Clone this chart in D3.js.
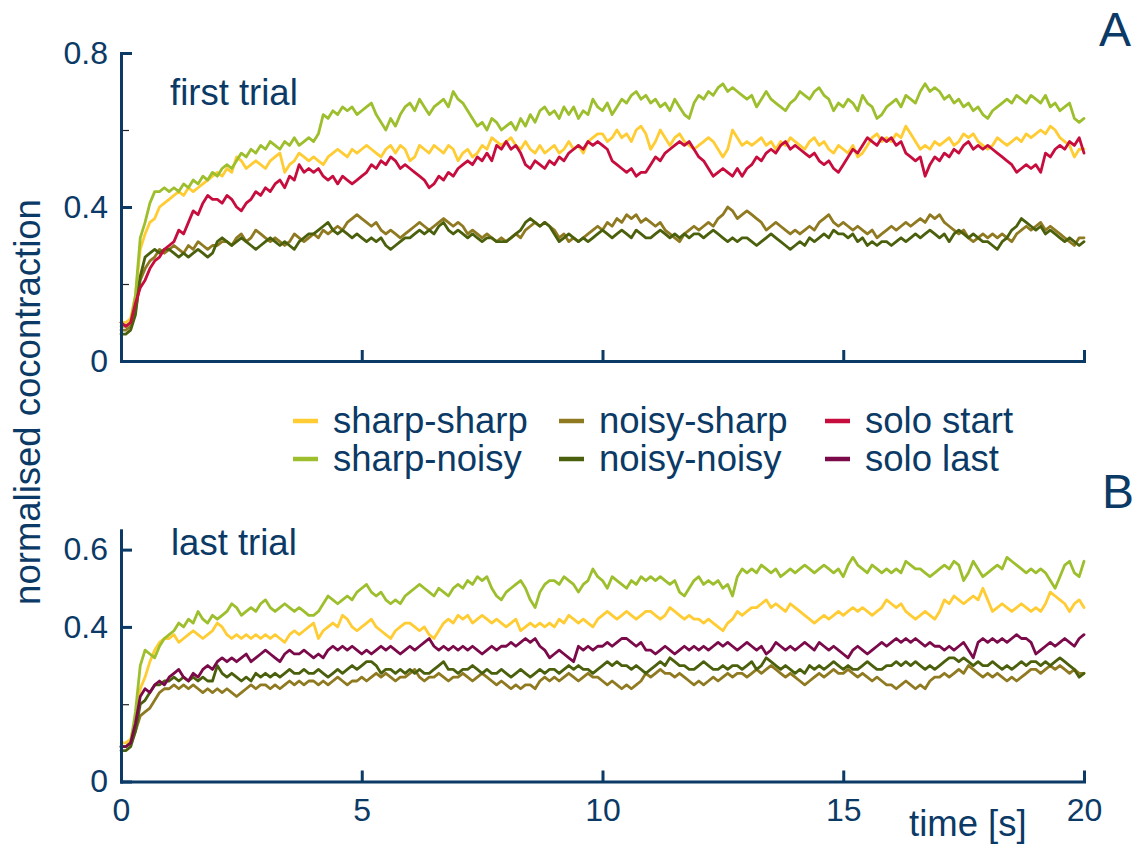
<!DOCTYPE html>
<html>
<head>
<meta charset="utf-8">
<script src="https://cdn.jsdelivr.net/npm/d3@7"></script>
<style>
  html, body { margin: 0; padding: 0; background: #ffffff; }
  svg { display: block; }
  text { font-family: "Liberation Sans", Arial, Helvetica, sans-serif; fill: #0b3a66; }
</style>
</head>
<body>
<svg id="chart" width="1145" height="847"></svg>
<script>
// Sampling interval of every trace (seconds); sample i is at time i * dt.
const dt = 0.1;

// Axis tick values
const xTickValues = [0, 5, 10, 15, 20];
const yMajorFirst = [0, 0.4, 0.8];
const yMinorFirst = [0.2, 0.6];
const yMajorLast = [0, 0.4, 0.6];
const yMinorLast = [0.2];

// Legend / series identity
const legendLabels = ["sharp-sharp", "sharp-noisy", "noisy-sharp", "noisy-noisy", "solo start", "solo last"];
const legendColors = ["#ffcc33", "#9dbf2e", "#8f7a22", "#4b600c", "#c70d3d", "#7b0a4a"];

// Panel A: first trial, normalised cocontraction
const sharpSharpFirst = [
0.10,0.10,0.11,0.17,0.29,0.33,0.36,0.37,0.40,0.41,
0.42,0.43,0.44,0.43,0.45,0.44,0.45,0.46,0.47,0.48,
0.49,0.48,0.50,0.49,0.53,0.52,0.50,0.51,0.52,0.51,
0.50,0.52,0.53,0.54,0.49,0.51,0.52,0.54,0.53,0.52,
0.53,0.52,0.51,0.53,0.54,0.55,0.54,0.53,0.55,0.54,
0.55,0.56,0.55,0.54,0.53,0.55,0.56,0.54,0.56,0.55,
0.52,0.53,0.56,0.55,0.54,0.56,0.55,0.54,0.56,0.55,
0.52,0.54,0.55,0.53,0.54,0.56,0.55,0.58,0.57,0.56,
0.57,0.58,0.56,0.55,0.57,0.55,0.54,0.56,0.54,0.55,
0.56,0.54,0.55,0.57,0.55,0.56,0.54,0.57,0.58,0.59,
0.59,0.57,0.58,0.60,0.58,0.59,0.57,0.60,0.61,0.59,
0.55,0.57,0.60,0.58,0.56,0.58,0.59,0.57,0.56,0.55,
0.56,0.57,0.58,0.57,0.55,0.53,0.55,0.60,0.58,0.56,
0.57,0.56,0.57,0.58,0.56,0.57,0.55,0.57,0.56,0.58,
0.57,0.56,0.55,0.57,0.58,0.56,0.57,0.55,0.54,0.56,
0.55,0.54,0.56,0.53,0.54,0.56,0.58,0.59,0.57,0.58,
0.57,0.59,0.58,0.61,0.59,0.57,0.55,0.56,0.55,0.57,
0.56,0.57,0.58,0.56,0.57,0.59,0.58,0.59,0.57,0.56,
0.55,0.56,0.58,0.57,0.56,0.57,0.58,0.57,0.59,0.58,
0.59,0.60,0.59,0.61,0.60,0.58,0.57,0.56,0.53,0.55,0.55
];
const sharpNoisyFirst = [
0.09,0.09,0.10,0.17,0.32,0.36,0.41,0.44,0.44,0.45,
0.44,0.45,0.44,0.46,0.45,0.47,0.46,0.48,0.47,0.49,
0.48,0.50,0.51,0.50,0.52,0.54,0.53,0.55,0.54,0.56,
0.55,0.57,0.56,0.55,0.57,0.56,0.58,0.56,0.57,0.58,
0.57,0.59,0.64,0.63,0.65,0.64,0.66,0.65,0.66,0.64,
0.65,0.66,0.67,0.64,0.62,0.60,0.63,0.61,0.64,0.66,
0.67,0.65,0.68,0.66,0.64,0.66,0.67,0.68,0.66,0.70,
0.68,0.67,0.65,0.63,0.61,0.62,0.60,0.63,0.62,0.60,
0.61,0.62,0.60,0.63,0.61,0.64,0.62,0.65,0.66,0.64,
0.65,0.63,0.66,0.64,0.66,0.63,0.65,0.64,0.68,0.66,
0.65,0.67,0.64,0.66,0.68,0.67,0.69,0.70,0.68,0.69,
0.67,0.68,0.66,0.67,0.65,0.68,0.66,0.64,0.63,0.67,
0.69,0.68,0.70,0.69,0.71,0.72,0.70,0.71,0.70,0.69,
0.68,0.69,0.66,0.68,0.70,0.68,0.67,0.66,0.65,0.67,
0.68,0.70,0.69,0.68,0.70,0.71,0.69,0.68,0.65,0.67,
0.66,0.68,0.67,0.65,0.69,0.67,0.66,0.63,0.64,0.66,
0.67,0.68,0.66,0.69,0.68,0.67,0.70,0.72,0.70,0.71,
0.70,0.68,0.69,0.67,0.68,0.66,0.67,0.65,0.66,0.64,
0.63,0.65,0.66,0.67,0.68,0.67,0.69,0.68,0.67,0.69,
0.68,0.67,0.69,0.66,0.67,0.65,0.66,0.67,0.63,0.62,0.63
];
const noisySharpFirst = [
0.08,0.08,0.09,0.13,0.21,0.24,0.26,0.27,0.29,0.28,
0.29,0.30,0.29,0.28,0.30,0.29,0.31,0.30,0.29,0.30,
0.30,0.31,0.31,0.30,0.32,0.33,0.31,0.32,0.34,0.33,
0.32,0.31,0.32,0.31,0.30,0.31,0.33,0.32,0.31,0.32,
0.33,0.32,0.34,0.33,0.34,0.35,0.34,0.36,0.37,0.38,
0.37,0.36,0.35,0.36,0.34,0.33,0.34,0.33,0.32,0.33,
0.34,0.35,0.36,0.35,0.34,0.35,0.36,0.37,0.36,0.35,
0.36,0.35,0.33,0.34,0.33,0.32,0.33,0.32,0.31,0.32,
0.31,0.32,0.33,0.32,0.34,0.35,0.36,0.35,0.36,0.35,
0.34,0.32,0.33,0.31,0.32,0.31,0.32,0.33,0.34,0.35,
0.34,0.36,0.35,0.37,0.36,0.38,0.37,0.38,0.36,0.37,
0.36,0.35,0.36,0.34,0.33,0.32,0.31,0.33,0.34,0.35,
0.34,0.35,0.36,0.35,0.37,0.38,0.40,0.39,0.37,0.38,
0.39,0.38,0.37,0.36,0.34,0.35,0.36,0.35,0.34,0.33,
0.34,0.33,0.34,0.35,0.34,0.36,0.37,0.38,0.36,0.35,
0.36,0.35,0.34,0.35,0.34,0.33,0.34,0.32,0.33,0.34,
0.35,0.34,0.35,0.36,0.35,0.36,0.37,0.36,0.38,0.37,
0.38,0.36,0.35,0.34,0.33,0.34,0.32,0.31,0.32,0.33,
0.32,0.33,0.32,0.33,0.32,0.31,0.33,0.34,0.35,0.34,
0.35,0.36,0.34,0.35,0.34,0.33,0.32,0.31,0.30,0.32,0.32
];
const noisyNoisyFirst = [
0.07,0.07,0.08,0.12,0.22,0.27,0.28,0.29,0.28,0.29,
0.29,0.28,0.27,0.28,0.27,0.28,0.29,0.28,0.27,0.28,
0.31,0.32,0.31,0.30,0.31,0.32,0.31,0.30,0.29,0.30,
0.31,0.32,0.31,0.30,0.31,0.30,0.29,0.31,0.32,0.33,
0.33,0.34,0.35,0.36,0.34,0.33,0.34,0.33,0.32,0.33,
0.32,0.31,0.32,0.31,0.32,0.30,0.29,0.30,0.31,0.32,
0.32,0.33,0.34,0.33,0.34,0.33,0.35,0.36,0.34,0.33,
0.34,0.33,0.32,0.33,0.32,0.31,0.32,0.32,0.31,0.31,
0.31,0.32,0.33,0.34,0.36,0.37,0.36,0.35,0.36,0.35,
0.33,0.31,0.32,0.33,0.32,0.31,0.32,0.31,0.32,0.33,
0.34,0.33,0.32,0.33,0.34,0.33,0.32,0.34,0.33,0.32,
0.32,0.33,0.34,0.33,0.32,0.33,0.32,0.33,0.32,0.33,
0.33,0.32,0.33,0.34,0.33,0.32,0.31,0.32,0.31,0.32,
0.32,0.31,0.30,0.31,0.32,0.33,0.32,0.31,0.30,0.29,
0.30,0.31,0.30,0.32,0.31,0.32,0.33,0.32,0.34,0.33,
0.33,0.32,0.33,0.31,0.32,0.30,0.31,0.30,0.31,0.31,
0.30,0.31,0.32,0.31,0.32,0.33,0.32,0.33,0.34,0.33,
0.32,0.33,0.31,0.33,0.34,0.33,0.32,0.33,0.32,0.31,
0.31,0.30,0.29,0.31,0.32,0.34,0.35,0.37,0.36,0.35,
0.34,0.35,0.33,0.34,0.33,0.32,0.31,0.32,0.31,0.30,0.31
];
const soloStartFirst = [
0.10,0.09,0.10,0.15,0.19,0.21,0.24,0.26,0.27,0.29,
0.30,0.31,0.34,0.33,0.36,0.39,0.38,0.41,0.43,0.42,
0.42,0.41,0.43,0.42,0.40,0.39,0.41,0.42,0.44,0.43,
0.45,0.44,0.46,0.47,0.45,0.48,0.47,0.51,0.49,0.50,
0.49,0.50,0.48,0.47,0.48,0.46,0.48,0.47,0.46,0.47,
0.48,0.49,0.51,0.50,0.52,0.51,0.53,0.52,0.50,0.51,
0.50,0.49,0.48,0.47,0.45,0.46,0.48,0.47,0.49,0.48,
0.50,0.51,0.52,0.51,0.53,0.52,0.54,0.52,0.56,0.55,
0.57,0.55,0.56,0.54,0.51,0.50,0.52,0.51,0.50,0.52,
0.51,0.53,0.52,0.54,0.55,0.56,0.55,0.57,0.56,0.57,
0.56,0.55,0.52,0.51,0.50,0.49,0.50,0.48,0.49,0.49,
0.51,0.53,0.52,0.54,0.55,0.56,0.57,0.56,0.57,0.55,
0.53,0.52,0.50,0.48,0.49,0.50,0.49,0.48,0.50,0.48,
0.50,0.51,0.53,0.52,0.54,0.55,0.54,0.56,0.57,0.55,
0.56,0.55,0.54,0.53,0.54,0.52,0.51,0.52,0.50,0.49,
0.51,0.53,0.55,0.54,0.56,0.58,0.57,0.56,0.58,0.57,
0.58,0.56,0.57,0.54,0.53,0.52,0.53,0.48,0.51,0.53,
0.52,0.54,0.53,0.55,0.54,0.56,0.57,0.55,0.56,0.55,
0.56,0.55,0.54,0.53,0.52,0.51,0.49,0.50,0.51,0.50,
0.51,0.49,0.54,0.53,0.55,0.56,0.55,0.57,0.56,0.58,0.54
];

// Panel B: last trial, normalised cocontraction
const sharpSharpLast = [
0.10,0.10,0.11,0.16,0.24,0.27,0.31,0.34,0.36,0.37,
0.37,0.38,0.36,0.37,0.38,0.39,0.38,0.37,0.38,0.39,
0.41,0.40,0.38,0.37,0.38,0.37,0.38,0.37,0.38,0.37,
0.38,0.37,0.38,0.37,0.36,0.38,0.39,0.38,0.39,0.40,
0.41,0.37,0.39,0.40,0.41,0.40,0.43,0.42,0.40,0.39,
0.40,0.41,0.42,0.40,0.39,0.38,0.37,0.39,0.40,0.41,
0.41,0.40,0.39,0.40,0.38,0.37,0.39,0.41,0.42,0.41,
0.43,0.42,0.43,0.41,0.42,0.43,0.42,0.41,0.42,0.41,
0.40,0.41,0.42,0.39,0.40,0.41,0.40,0.41,0.40,0.41,
0.40,0.42,0.41,0.43,0.42,0.41,0.42,0.41,0.40,0.42,
0.43,0.44,0.43,0.42,0.43,0.44,0.43,0.42,0.43,0.44,
0.44,0.43,0.42,0.43,0.45,0.44,0.43,0.42,0.43,0.42,
0.42,0.41,0.42,0.41,0.40,0.39,0.41,0.42,0.44,0.43,
0.44,0.45,0.45,0.46,0.47,0.45,0.46,0.45,0.44,0.46,
0.45,0.44,0.43,0.42,0.41,0.42,0.43,0.42,0.43,0.44,
0.43,0.44,0.45,0.44,0.45,0.44,0.43,0.44,0.45,0.47,
0.46,0.45,0.46,0.44,0.43,0.42,0.43,0.44,0.43,0.42,
0.44,0.47,0.46,0.48,0.47,0.46,0.47,0.48,0.47,0.50,
0.47,0.44,0.45,0.46,0.45,0.44,0.45,0.46,0.45,0.44,
0.45,0.44,0.46,0.49,0.48,0.47,0.46,0.44,0.46,0.47,0.45
];
const sharpNoisyLast = [
0.09,0.09,0.10,0.18,0.30,0.34,0.33,0.32,0.35,0.37,
0.38,0.39,0.41,0.40,0.42,0.41,0.44,0.42,0.41,0.43,
0.42,0.43,0.44,0.46,0.45,0.43,0.44,0.45,0.44,0.46,
0.47,0.45,0.44,0.45,0.46,0.45,0.44,0.45,0.44,0.43,
0.43,0.44,0.46,0.48,0.47,0.46,0.47,0.48,0.47,0.49,
0.50,0.51,0.49,0.48,0.49,0.47,0.46,0.47,0.46,0.48,
0.49,0.50,0.51,0.50,0.49,0.48,0.50,0.49,0.48,0.50,
0.51,0.50,0.52,0.51,0.53,0.52,0.53,0.50,0.48,0.47,
0.49,0.50,0.51,0.52,0.50,0.47,0.45,0.49,0.51,0.52,
0.52,0.51,0.53,0.52,0.51,0.49,0.51,0.52,0.55,0.53,
0.52,0.50,0.53,0.52,0.51,0.50,0.52,0.51,0.53,0.52,
0.53,0.52,0.53,0.52,0.51,0.52,0.49,0.48,0.50,0.52,
0.53,0.51,0.52,0.51,0.52,0.50,0.51,0.48,0.53,0.55,
0.54,0.55,0.54,0.56,0.55,0.54,0.55,0.53,0.54,0.55,
0.54,0.55,0.56,0.55,0.54,0.55,0.56,0.55,0.54,0.55,
0.53,0.56,0.58,0.56,0.55,0.54,0.56,0.55,0.54,0.55,
0.54,0.55,0.54,0.57,0.56,0.55,0.55,0.54,0.53,0.54,
0.55,0.56,0.55,0.57,0.56,0.52,0.54,0.57,0.55,0.53,
0.54,0.55,0.56,0.55,0.58,0.57,0.56,0.55,0.54,0.55,
0.54,0.55,0.54,0.52,0.50,0.53,0.56,0.57,0.54,0.53,0.57
];
const noisySharpLast = [
0.09,0.09,0.10,0.13,0.17,0.18,0.19,0.21,0.23,0.24,
0.24,0.25,0.24,0.25,0.24,0.25,0.24,0.23,0.24,0.23,
0.24,0.23,0.24,0.23,0.22,0.23,0.24,0.25,0.24,0.25,
0.25,0.24,0.25,0.24,0.25,0.26,0.25,0.26,0.25,0.26,
0.26,0.25,0.26,0.25,0.26,0.27,0.26,0.25,0.26,0.26,
0.27,0.26,0.27,0.28,0.27,0.28,0.27,0.26,0.27,0.27,
0.28,0.29,0.27,0.26,0.27,0.27,0.28,0.27,0.26,0.27,
0.27,0.28,0.27,0.26,0.27,0.28,0.27,0.26,0.25,0.26,
0.25,0.24,0.25,0.24,0.25,0.25,0.24,0.26,0.27,0.26,
0.27,0.26,0.27,0.28,0.27,0.26,0.27,0.28,0.27,0.27,
0.26,0.25,0.26,0.25,0.24,0.25,0.24,0.25,0.26,0.28,
0.27,0.28,0.29,0.28,0.28,0.27,0.28,0.27,0.26,0.25,
0.26,0.25,0.26,0.27,0.26,0.27,0.28,0.27,0.28,0.28,
0.27,0.28,0.29,0.28,0.29,0.30,0.29,0.28,0.27,0.28,
0.27,0.26,0.25,0.26,0.27,0.28,0.27,0.28,0.29,0.28,
0.28,0.29,0.28,0.27,0.28,0.27,0.26,0.27,0.26,0.25,
0.25,0.24,0.25,0.26,0.25,0.24,0.25,0.24,0.26,0.27,
0.27,0.28,0.27,0.28,0.29,0.28,0.30,0.29,0.28,0.27,
0.28,0.27,0.28,0.27,0.26,0.27,0.26,0.27,0.28,0.29,
0.29,0.28,0.29,0.30,0.29,0.30,0.29,0.28,0.29,0.28,0.28
];
const noisyNoisyLast = [
0.08,0.08,0.09,0.13,0.20,0.21,0.23,0.25,0.25,0.26,
0.26,0.27,0.26,0.27,0.26,0.27,0.26,0.27,0.26,0.26,
0.30,0.28,0.27,0.28,0.27,0.26,0.27,0.26,0.28,0.27,
0.28,0.27,0.28,0.27,0.28,0.29,0.28,0.28,0.29,0.28,
0.28,0.29,0.28,0.27,0.28,0.29,0.28,0.29,0.30,0.29,
0.30,0.31,0.31,0.30,0.28,0.29,0.29,0.28,0.29,0.28,
0.29,0.28,0.29,0.28,0.28,0.29,0.30,0.31,0.29,0.29,
0.28,0.29,0.29,0.30,0.29,0.28,0.29,0.28,0.28,0.29,
0.28,0.27,0.28,0.29,0.28,0.27,0.28,0.29,0.28,0.29,
0.29,0.28,0.29,0.30,0.29,0.30,0.29,0.29,0.28,0.29,
0.30,0.31,0.30,0.31,0.30,0.30,0.29,0.30,0.29,0.28,
0.29,0.30,0.31,0.30,0.32,0.31,0.30,0.30,0.29,0.29,
0.30,0.31,0.30,0.29,0.29,0.30,0.29,0.30,0.30,0.29,
0.30,0.31,0.29,0.30,0.32,0.31,0.30,0.29,0.30,0.29,
0.28,0.29,0.28,0.30,0.29,0.30,0.29,0.30,0.31,0.30,
0.29,0.30,0.29,0.29,0.30,0.31,0.30,0.29,0.29,0.30,
0.30,0.31,0.30,0.31,0.30,0.31,0.30,0.29,0.30,0.29,
0.30,0.31,0.32,0.32,0.31,0.32,0.31,0.30,0.31,0.30,
0.30,0.31,0.30,0.29,0.30,0.29,0.30,0.31,0.30,0.31,
0.31,0.30,0.31,0.30,0.31,0.32,0.31,0.30,0.29,0.27,0.28
];
const soloLast = [
0.09,0.09,0.10,0.15,0.22,0.24,0.23,0.25,0.26,0.25,
0.27,0.28,0.29,0.27,0.26,0.28,0.27,0.29,0.30,0.29,
0.31,0.32,0.31,0.32,0.31,0.32,0.33,0.31,0.32,0.33,
0.34,0.33,0.32,0.31,0.33,0.34,0.33,0.33,0.34,0.33,
0.32,0.33,0.32,0.34,0.35,0.34,0.35,0.34,0.35,0.34,
0.33,0.34,0.33,0.34,0.35,0.34,0.35,0.34,0.33,0.34,
0.35,0.34,0.35,0.36,0.37,0.35,0.34,0.35,0.34,0.35,
0.34,0.35,0.34,0.35,0.34,0.33,0.34,0.35,0.34,0.35,
0.35,0.36,0.35,0.36,0.37,0.36,0.37,0.35,0.34,0.32,
0.33,0.34,0.33,0.32,0.31,0.35,0.34,0.35,0.34,0.35,
0.35,0.36,0.35,0.36,0.37,0.37,0.36,0.35,0.36,0.34,
0.34,0.33,0.34,0.35,0.34,0.33,0.34,0.35,0.34,0.35,
0.34,0.35,0.34,0.35,0.36,0.35,0.36,0.35,0.34,0.35,
0.36,0.35,0.34,0.35,0.33,0.34,0.36,0.35,0.34,0.35,
0.34,0.35,0.36,0.35,0.34,0.36,0.35,0.34,0.35,0.34,
0.33,0.32,0.34,0.35,0.34,0.33,0.34,0.35,0.36,0.35,
0.36,0.37,0.36,0.37,0.36,0.37,0.36,0.35,0.36,0.35,
0.35,0.34,0.35,0.34,0.35,0.36,0.34,0.32,0.36,0.37,
0.36,0.37,0.36,0.37,0.36,0.37,0.38,0.37,0.37,0.36,
0.33,0.34,0.35,0.36,0.35,0.36,0.37,0.36,0.35,0.37,0.38
];

// Traces per panel, in drawing order (later ones sit on top)
const firstTrialSeries = [
  { name: "sharp-sharp", values: sharpSharpFirst },
  { name: "sharp-noisy", values: sharpNoisyFirst },
  { name: "noisy-sharp", values: noisySharpFirst },
  { name: "noisy-noisy", values: noisyNoisyFirst },
  { name: "solo start", values: soloStartFirst }
];
const lastTrialSeries = [
  { name: "sharp-sharp", values: sharpSharpLast },
  { name: "sharp-noisy", values: sharpNoisyLast },
  { name: "noisy-sharp", values: noisySharpLast },
  { name: "noisy-noisy", values: noisyNoisyLast },
  { name: "solo last", values: soloLast }
];

const ink = "#0b3a66";
const labelFont = 36.5;
const tickFont = 32;
const color = d3.scaleOrdinal(legendLabels, legendColors);
const svg = d3.select("#chart");

const x = d3.scaleLinear().domain([0, 20]).range([121, 1084]);
const yFirst = d3.scaleLinear().domain([0, 0.8]).range([361, 53]);
const yLast = d3.scaleLinear().domain([0, 0.65]).range([781.5, 530.3]);

function styleAxis(g) {
  g.select(".domain").attr("stroke", ink).attr("stroke-width", 3).attr("stroke-linecap", "square");
  g.selectAll(".tick line").attr("stroke", ink).attr("stroke-width", 3);
  g.selectAll(".tick text")
    .attr("fill", ink)
    .style("font-family", '"Liberation Sans", Arial, Helvetica, sans-serif')
    .style("font-size", tickFont + "px");
}

function drawPanel(y, yMajor, yMinor, series, showXLabels) {
  const g = svg.append("g");

  // minor y ticks (thin, unlabeled)
  const minor = g.append("g")
    .attr("transform", `translate(${x(0)},0)`)
    .call(d3.axisLeft(y).tickValues(yMinor).tickSize(-8).tickFormat(""));
  minor.select(".domain").remove();
  minor.selectAll(".tick line").attr("stroke", "#222").attr("stroke-width", 1.2);

  // traces
  const line = d3.line()
    .x((d, i) => x(i * dt))
    .y(d => y(d));
  g.append("g")
    .selectAll("path")
    .data(series)
    .join("path")
    .attr("d", s => line(s.values))
    .attr("fill", "none")
    .attr("stroke", s => color(s.name))
    .attr("stroke-width", 2.8)
    .attr("stroke-linejoin", "round")
    .attr("stroke-linecap", "round");

  // x axis
  const xAxis = d3.axisBottom(x)
    .tickValues(showXLabels ? xTickValues : xTickValues.slice(1))
    .tickSize(-11).tickSizeOuter(0).tickPadding(17);
  if (!showXLabels) xAxis.tickFormat("");
  const gx = g.append("g")
    .attr("transform", `translate(0,${y(0)})`)
    .call(xAxis);
  styleAxis(gx);

  // y axis
  const gy = g.append("g")
    .attr("transform", `translate(${x(0)},0)`)
    .call(d3.axisLeft(y).tickValues(yMajor).tickSize(-11).tickSizeOuter(0)
      .tickPadding(13).tickFormat(d3.format("~g")));
  styleAxis(gy);
  return g;
}

drawPanel(yFirst, yMajorFirst, yMinorFirst, firstTrialSeries, false);
drawPanel(yLast, yMajorLast, yMinorLast, lastTrialSeries, true);

// panel titles and letters
svg.append("text").attr("x", 170).attr("y", 105).style("font-size", labelFont + "px").text("first trial");
svg.append("text").attr("x", 171).attr("y", 555).style("font-size", labelFont + "px").text("last trial");
svg.append("text").attr("x", 1099).attr("y", 46).style("font-size", "48px").text("A");
svg.append("text").attr("x", 1102).attr("y", 508).style("font-size", "48px").text("B");

// axis titles
svg.append("text")
  .attr("transform", "translate(40,402) rotate(-90)")
  .attr("text-anchor", "middle")
  .style("font-size", labelFont + "px")
  .text("normalised cocontraction");
svg.append("text").attr("x", 909).attr("y", 836).style("font-size", labelFont + "px").text("time [s]");

// legend: three columns of two entries
const legendCols = [293, 559, 825];
const legendRows = [421, 459];
const legend = svg.append("g")
  .selectAll("g")
  .data(legendLabels)
  .join("g")
  .attr("transform", (d, i) => `translate(${legendCols[Math.floor(i / 2)]},${legendRows[i % 2]})`);
legend.append("line")
  .attr("x1", 0).attr("x2", 25).attr("y1", 0).attr("y2", 0)
  .attr("stroke", d => color(d)).attr("stroke-width", 4.5);
legend.append("text")
  .attr("x", 40).attr("y", 12)
  .style("font-size", labelFont + "px")
  .text(d => d);
</script>
</body>
</html>
